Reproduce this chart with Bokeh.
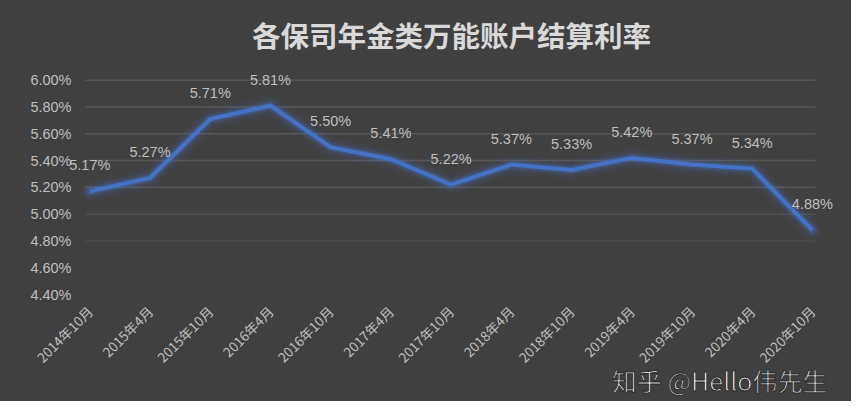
import math
from bokeh.plotting import figure
from bokeh.models import FixedTicker, ColumnDataSource, LabelSet, Title
from bokeh.core.properties import value
from bokeh.embed import file_html
from bokeh.resources import INLINE

categories = ["2014年10月", "2015年4月", "2015年10月", "2016年4月", "2016年10月",
              "2017年4月", "2017年10月", "2018年4月", "2018年10月", "2019年4月",
              "2019年10月", "2020年4月", "2020年10月"]
rates = [5.17, 5.27, 5.71, 5.81, 5.50, 5.41, 5.22, 5.37, 5.33, 5.42, 5.37, 5.34, 4.88]
y_ticks = [4.40, 4.60, 4.80, 5.00, 5.20, 5.40, 5.60, 5.80, 6.00]
grid_ticks = [4.80, 5.00, 5.20, 5.40, 5.60, 5.80, 6.00]
grid_colors = ["#4b4b4b", "#515151", "#575757", "#575757", "#575757", "#575757", "#575757"]
title_text = "各保司年金类万能账户结算利率"
watermark = "知乎 @Hello伟先生"

BG = "#404040"
TXT = "#bfbfbf"
LINE = "#4472C4"

W, H = 851, 401
BL, BR, BT, BB = 66, 15, 64, 107
X_LO, X_HI = -0.387, 12.40      # frame extent (leaves room for labels)
G_LO, G_HI = -0.071, 12.05      # visible plot-area extent (gridlines)

xs = list(range(len(categories)))
labels = ["%.2f%%" % r for r in rates]
src = ColumnDataSource(dict(x=xs, y=rates, lab=labels))
gsrc = ColumnDataSource(dict(x0=[G_LO] * len(grid_ticks), x1=[G_HI] * len(grid_ticks),
                             y=grid_ticks, c=grid_colors))

p = figure(width=W, height=H, output_backend="svg", toolbar_location=None,
           x_range=(X_LO, X_HI), y_range=(4.40, 6.11),
           background_fill_color=BG, border_fill_color=BG,
           min_border_left=BL, min_border_right=BR, min_border_top=BT, min_border_bottom=BB)
p.styles = {"background-color": BG}
p.outline_line_color = None
p.xgrid.visible = False
p.ygrid.visible = False

p.segment("x0", "y", "x1", "y", source=gsrc, line_color="c", line_width=1.5)

# glow
for w, a in [(20, 0.05), (14, 0.08), (10, 0.12), (7, 0.2)]:
    p.line("x", "y", source=src, line_color="#4a7ad6", line_width=w, line_alpha=a,
           line_join="round", line_cap="round")
p.line("x", "y", source=src, line_color=LINE, line_width=4, line_join="miter")

p.add_layout(LabelSet(x="x", y="y", text="lab", source=src,
                      text_color=TXT, text_font=value("Liberation Sans"),
                      text_font_size=value("14.5px"),
                      text_align="center", text_baseline="middle", y_offset=26))

# axes
p.yaxis.ticker = FixedTicker(ticks=y_ticks)
p.yaxis.major_label_overrides = {t: "%.2f%%" % t for t in y_ticks}
p.yaxis.axis_line_color = None
p.yaxis.major_tick_line_color = None
p.yaxis.minor_tick_line_color = None
p.yaxis.major_tick_out = 0
p.yaxis.major_tick_in = 0
p.yaxis.major_label_standoff = -5
p.yaxis.major_label_text_color = TXT
p.yaxis.major_label_text_font = "Liberation Sans"
p.yaxis.major_label_text_font_size = "14.5px"

p.xaxis.ticker = FixedTicker(ticks=xs)
p.xaxis.major_label_overrides = {i: c for i, c in enumerate(categories)}
p.xaxis.major_label_orientation = math.pi / 4
p.xaxis.axis_line_color = None
p.xaxis.major_tick_line_color = None
p.xaxis.minor_tick_line_color = None
p.xaxis.major_tick_out = 0
p.xaxis.major_tick_in = 0
p.xaxis.major_label_standoff = 14
p.xaxis.major_label_text_color = TXT
p.xaxis.major_label_text_font = "Noto Sans CJK SC"
p.xaxis.major_label_text_font_size = "13.5px"

# title
p.title.text = title_text
p.title.align = "center"
p.title.text_color = "#d9d9d9"
p.title.text_font = "Noto Sans CJK SC"
p.title.text_font_style = "bold"
p.title.text_font_size = "28.5px"
p.title.standoff = 22

# watermark
p.add_layout(Title(text=watermark, align="right", offset=9, standoff=-42,
                   text_color="#ffffff", text_font="Noto Sans CJK SC",
                   text_font_style="normal", text_font_size="25px",
                   text_outline_color="#2a2a2a"), "below")

open("out.html", "w").write(file_html(p, INLINE))
